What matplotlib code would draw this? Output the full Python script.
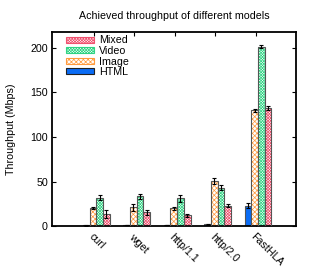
import matplotlib
matplotlib.use("Agg")
import matplotlib.pyplot as plt
import numpy as np

plt.rcParams['font.family'] = ['Liberation Sans', 'DejaVu Sans']
plt.rcParams['hatch.linewidth'] = 0.5

# data
tools = ["curl", "wget", "http/1.1", "http/2.0", "FastHLA"]
series = ["HTML", "Image", "Video", "Mixed"]
html = [0.8, 1.0, 1.0, 2.2, 23.0]
image = [20.0, 21.0, 20.0, 51.0, 130.0]
video = [32.0, 33.3, 31.0, 43.0, 201.5]
mixed = [13.0, 15.4, 12.0, 23.0, 132.5]
html_err = [0.3, 0.3, 0.3, 0.5, 2.5]
image_err = [1.0, 4.0, 1.5, 3.5, 2.0]
video_err = [3.0, 3.0, 4.0, 3.0, 1.5]
mixed_err = [4.5, 2.5, 2.0, 2.0, 2.0]

values = [html, image, video, mixed]
errors = [html_err, image_err, video_err, mixed_err]
colors = ["#0a6cf5", "#ff9a3c", "#2fd483", "#f0506e"]
hatches = [None, "x" * 7, "x" * 12, "x" * 12]

fs = 7.7
fig = plt.figure(figsize=(3.16, 2.73), dpi=100)
ax = fig.add_axes([0.165, 0.172, 0.772, 0.711])

x = np.arange(len(tools))
w = 0.165
handles = []
for j in range(4):
    pos = x - 0.27 + w / 2 + j * w
    if hatches[j] is None:
        ax.bar(pos, values[j], w, color=colors[j], edgecolor="#555555", linewidth=0.8, zorder=2)
        h = plt.Rectangle((0, 0), 1, 1, facecolor=colors[j], edgecolor="#222222", linewidth=0.8)
    else:
        ax.bar(pos, values[j], w, color="white", edgecolor=colors[j], hatch=hatches[j], linewidth=0, zorder=2)
        ax.bar(pos, values[j], w, fill=False, edgecolor="#555555", linewidth=0.8, zorder=3)
        h = plt.Rectangle((0, 0), 1, 1, facecolor="white", edgecolor=colors[j], hatch=hatches[j], linewidth=0.8)
    ax.errorbar(pos, values[j], yerr=errors[j], fmt="none", ecolor="black",
                elinewidth=0.8, capsize=1.5, capthick=0.8, zorder=4)
    handles.append(h)

ax.set_xlim(-1.03, 5.0)
ax.set_ylim(0, 218)
ax.set_yticks([0, 50, 100, 150, 200])
ax.set_xticks(x)
ax.set_xticklabels(tools, rotation=-45, ha="left", va="top", rotation_mode="anchor")
ax.tick_params(direction="in", top=True, right=True, labelsize=fs, length=3, width=0.8, pad=3)
ax.tick_params(axis="x", pad=4)
for s in ax.spines.values():
    s.set_linewidth(1.3)

ax.set_ylabel("Throughput (Mbps)", fontsize=fs, labelpad=10)
ax.set_title("Achieved throughput of different models", fontsize=fs, pad=9)

leg = ax.legend(handles[::-1], series[::-1], loc="upper left", frameon=False, fontsize=fs,
                handlelength=2.6, handleheight=0.5, handletextpad=0.5, labelspacing=0.05,
                borderaxespad=0.2, bbox_to_anchor=(0.03, 1.015))

fig.savefig("out.png", dpi=100)
